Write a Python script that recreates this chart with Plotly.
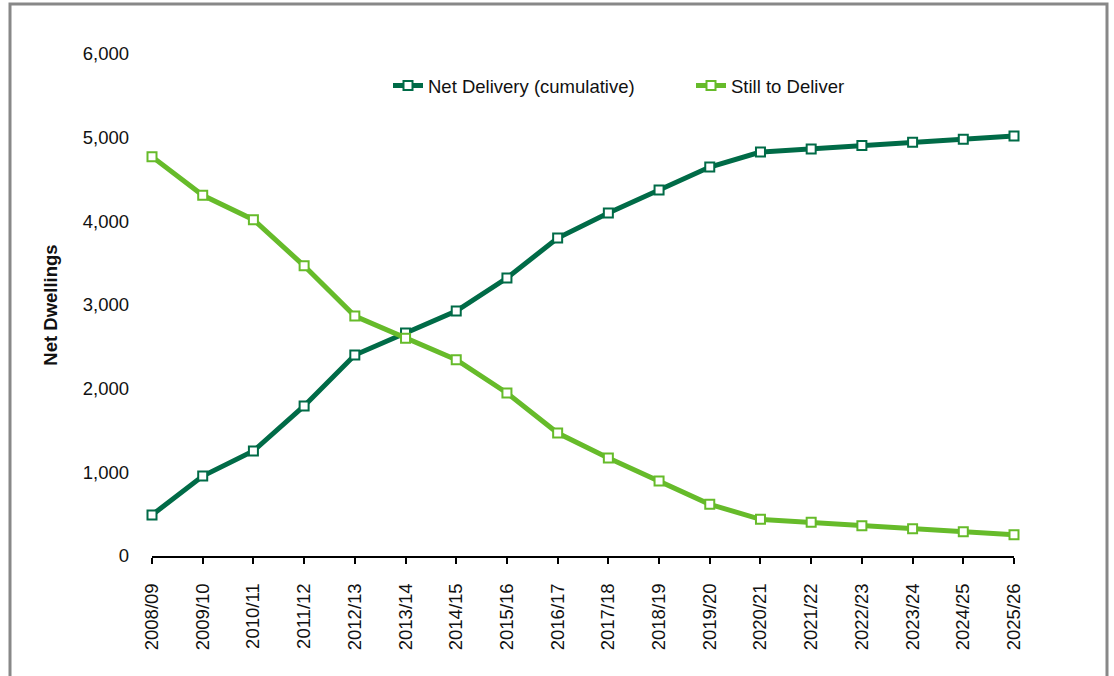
import plotly.graph_objects as go

years = ["2008/09", "2009/10", "2010/11", "2011/12", "2012/13", "2013/14",
         "2014/15", "2015/16", "2016/17", "2017/18", "2018/19", "2019/20",
         "2020/21", "2021/22", "2022/23", "2023/24", "2024/25", "2025/26"]

net_delivery = [490, 956, 1255, 1793, 2402, 2665, 2928, 3323, 3800, 4100,
                4374, 4649, 4828, 4864, 4905, 4944, 4980, 5020]

still_to_deliver = [4773, 4311, 4020, 3468, 2868, 2602, 2346, 1948, 1470, 1171,
                    896, 618, 438, 402, 362, 326, 290, 255]

y_ticks = [0, 1000, 2000, 3000, 4000, 5000, 6000]

DARK = "#006B47"
LIGHT = "#66BB2A"
FONT = "Arial, Liberation Sans, sans-serif"
FS = 18.5

fig = go.Figure()
fig.add_trace(go.Scatter(
    x=years, y=net_delivery, name="Net Delivery (cumulative)",
    mode="lines+markers", cliponaxis=False,
    line=dict(color=DARK, width=5),
    marker=dict(symbol="square", size=9, color="white",
                line=dict(color=DARK, width=2)),
))
fig.add_trace(go.Scatter(
    x=years, y=still_to_deliver, name="Still to Deliver",
    mode="lines+markers", cliponaxis=False,
    line=dict(color=LIGHT, width=5),
    marker=dict(symbol="square", size=9, color="white",
                line=dict(color=LIGHT, width=2)),
))

# outer frame
L, T, W, H = 152, 54, 862, 502
def px_x(p):
    return (p - L) / W
def px_y(p):
    return (T + H - p) / H

fig.add_shape(type="rect", xref="paper", yref="paper",
              x0=px_x(10), x1=px_x(1107), y0=px_y(690), y1=px_y(4),
              line=dict(color="#888888", width=3), fillcolor="rgba(0,0,0,0)",
              layer="below")

fig.update_layout(
    width=1114, height=676,
    margin=dict(l=L, r=1114 - L - W, t=T, b=676 - T - H, autoexpand=False),
    paper_bgcolor="white", plot_bgcolor="white",
    font=dict(family=FONT, size=FS, color="#111111"),
    showlegend=True,
    legend=dict(orientation="h", x=px_x(388), xanchor="left",
                y=px_y(86), yanchor="middle",
                font=dict(size=FS), entrywidth=258, entrywidthmode="pixels",
                bgcolor="rgba(0,0,0,0)"),
    xaxis=dict(type="category", range=[0, 17], showgrid=False,
               showline=True, linecolor="black", linewidth=2,
               ticks="outside", ticklen=6, tickwidth=2, tickcolor="black",
               tickangle=-90, ticklabelstandoff=12,
               tickfont=dict(size=FS)),
    yaxis=dict(range=[0, 6000], tickvals=y_ticks, tickformat=",d",
               showgrid=False, showline=False, zeroline=False,
               ticks="", ticklabelstandoff=22, tickfont=dict(size=FS),
               title=dict(text="<b>Net Dwellings</b>", font=dict(size=FS),
                          standoff=20)),
)

fig.write_html("out.html")
